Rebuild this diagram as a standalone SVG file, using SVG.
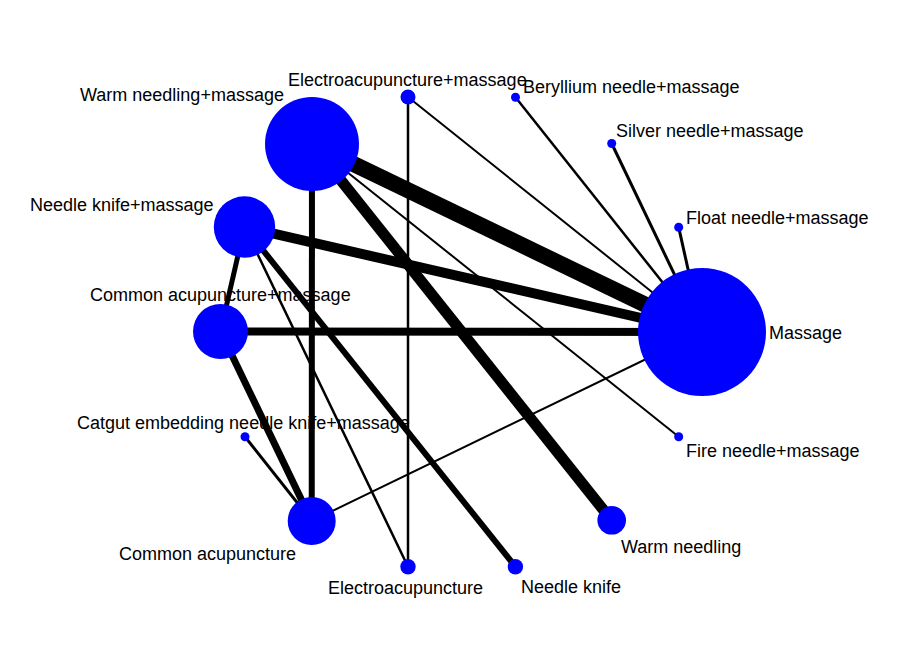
<svg xmlns="http://www.w3.org/2000/svg" width="900" height="652" viewBox="0 0 900 652">
<style>
.e{stroke:#000;fill:none;stroke-linecap:butt}
.n circle{fill:#0000ff}
text{font-family:"Liberation Sans",Arial,sans-serif;font-size:18px;fill:#000}
</style>
<rect width="900" height="652" fill="#fff"/>
<g id="edges">
<line class="e" x1="312" y1="144" x2="702" y2="332" stroke-width="16"/>
<line class="e" x1="312" y1="144" x2="611.7" y2="520.3" stroke-width="11"/>
<line class="e" x1="312" y1="144" x2="311.7" y2="521" stroke-width="6"/>
<line class="e" x1="312" y1="144" x2="678.7" y2="436.7" stroke-width="2"/>
<line class="e" x1="408" y1="97" x2="702" y2="332" stroke-width="2"/>
<line class="e" x1="408" y1="97" x2="408" y2="566.7" stroke-width="2.5"/>
<line class="e" x1="515.5" y1="97.3" x2="702" y2="332" stroke-width="2.5"/>
<line class="e" x1="611.7" y1="143.5" x2="702" y2="332" stroke-width="3"/>
<line class="e" x1="678.7" y1="227.3" x2="702" y2="332" stroke-width="3"/>
<line class="e" x1="244.5" y1="227" x2="702" y2="332" stroke-width="10"/>
<line class="e" x1="244.5" y1="227" x2="220.5" y2="331.5" stroke-width="5"/>
<line class="e" x1="244.5" y1="227" x2="515.4" y2="566.7" stroke-width="6"/>
<line class="e" x1="244.5" y1="227" x2="408" y2="566.7" stroke-width="2.5"/>
<line class="e" x1="220.5" y1="331.5" x2="702" y2="332" stroke-width="8"/>
<line class="e" x1="220.5" y1="331.5" x2="311.7" y2="521" stroke-width="7"/>
<line class="e" x1="245" y1="436.7" x2="311.7" y2="521" stroke-width="3"/>
<line class="e" x1="311.7" y1="521" x2="702" y2="332" stroke-width="2"/>
</g>
<g id="node-warm-needling-massage" class="n"><circle cx="312" cy="144" r="47"/><text x="80" y="101">Warm needling+massage</text></g>
<g id="node-electroacupuncture-massage" class="n"><circle cx="408" cy="97" r="7.5"/><text x="288" y="86">Electroacupuncture+massage</text></g>
<g id="node-beryllium-needle-massage" class="n"><circle cx="515.5" cy="97.3" r="4.5"/><text x="523" y="93">Beryllium needle+massage</text></g>
<g id="node-silver-needle-massage" class="n"><circle cx="611.7" cy="143.5" r="4.5"/><text x="616" y="137">Silver needle+massage</text></g>
<g id="node-float-needle-massage" class="n"><circle cx="678.7" cy="227.3" r="4.5"/><text x="686" y="224">Float needle+massage</text></g>
<g id="node-massage" class="n"><circle cx="702" cy="332" r="64"/><text x="769" y="339">Massage</text></g>
<g id="node-fire-needle-massage" class="n"><circle cx="678.7" cy="436.7" r="4.5"/><text x="686" y="457">Fire needle+massage</text></g>
<g id="node-warm-needling" class="n"><circle cx="611.7" cy="520.3" r="14.3"/><text x="621" y="553">Warm needling</text></g>
<g id="node-needle-knife" class="n"><circle cx="515.4" cy="566.7" r="7.7"/><text x="521" y="593">Needle knife</text></g>
<g id="node-electroacupuncture" class="n"><circle cx="408" cy="566.7" r="7.7"/><text x="328" y="594">Electroacupuncture</text></g>
<g id="node-common-acupuncture" class="n"><circle cx="311.7" cy="521" r="24"/><text x="119" y="560">Common acupuncture</text></g>
<g id="node-catgut-embedding" class="n"><circle cx="245" cy="436.7" r="4.5"/><text x="77" y="429">Catgut embedding needle knife+massage</text></g>
<g id="node-common-acupuncture-massage" class="n"><circle cx="220.5" cy="331.5" r="27.5"/><text x="90" y="301">Common acupuncture+massage</text></g>
<g id="node-needle-knife-massage" class="n"><circle cx="244.5" cy="227" r="30.7"/><text x="30" y="211">Needle knife+massage</text></g>
</svg>
